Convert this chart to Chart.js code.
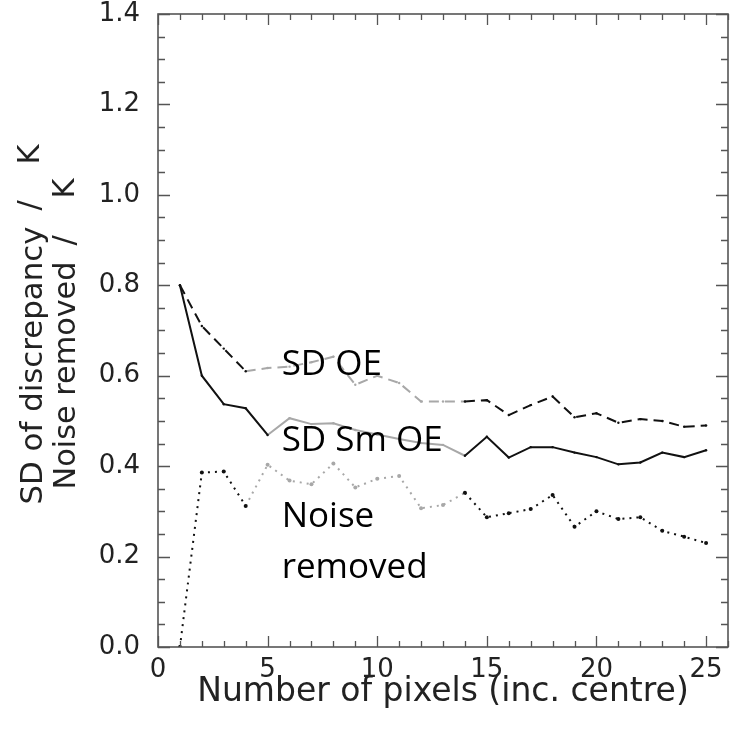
<!DOCTYPE html>
<html>
<head>
<meta charset="utf-8">
<script src="https://cdn.jsdelivr.net/npm/chart.js@4/dist/chart.umd.min.js"></script>
<style>
  html, body { margin: 0; padding: 0; background: #fff; }
  #wrap { width: 732px; height: 731px; position: relative; }
</style>
</head>
<body>
<div id="wrap"><canvas id="c"></canvas></div>
<script>
// ---- data ----
const pixels = [1,2,3,4,5,6,7,8,9,10,11,12,13,14,15,16,17,18,19,20,21,22,23,24,25];
const sdOE = [0.80,0.71,0.66,0.61,0.617,0.62,0.63,0.642,0.58,0.60,0.584,0.543,0.543,0.543,0.546,0.513,0.535,0.554,0.508,0.517,0.496,0.504,0.50,0.487,0.49];
const sdSmOE = [0.80,0.60,0.537,0.528,0.469,0.506,0.493,0.495,0.48,0.47,0.46,0.451,0.447,0.423,0.465,0.419,0.442,0.442,0.43,0.42,0.404,0.408,0.43,0.42,0.435];
const noiseRemoved = [0.0,0.386,0.388,0.312,0.403,0.368,0.36,0.406,0.353,0.372,0.378,0.307,0.314,0.341,0.287,0.296,0.305,0.336,0.266,0.30,0.283,0.287,0.257,0.244,0.23];
const xTickValues = [0,5,10,15,20,25];
const yTickValues = [0.0,0.2,0.4,0.6,0.8,1.0,1.2,1.4];
const xTitle = 'Number of pixels (inc. centre)';
const yTitleLines = [['SD of discrepancy', '/', 'K'], ['Noise removed', '/', 'K']];
const annotations = [
  { text: 'SD OE', x: 5.64, y: 0.602 },
  { text: 'SD Sm OE', x: 5.64, y: 0.434 },
  { text: 'Noise', x: 5.64, y: 0.265 },
  { text: 'removed', x: 5.64, y: 0.153 }
];

const BLACK = '#111111';
const GREY = '#a8a8a8';
const AXIS = '#555555';
const TEXT = '#222222';

function greyBetween(a, b) {
  return ctx => (ctx.p0.parsed.x >= a && ctx.p1.parsed.x <= b) ? GREY : undefined;
}
function pointGrey(a, b) {
  return ctx => {
    const x = pixels[ctx.dataIndex];
    return (x > a && x < b) ? GREY : BLACK;
  };
}
function toXY(arr) { return pixels.map((p, i) => ({ x: p, y: arr[i] })); }

// IDL-style frame with inward ticks on all four sides
const frameTicks = {
  id: 'frameTicks',
  afterDatasetsDraw(chart) {
    const { ctx, chartArea: a, scales: { x, y } } = chart;
    ctx.save();
    ctx.strokeStyle = AXIS;
    ctx.lineWidth = 1.6;
    ctx.strokeRect(a.left, a.top, a.right - a.left, a.bottom - a.top);
    ctx.lineWidth = 1.3;
    ctx.beginPath();
    for (let v = 0; v <= 26; v += 1) {
      const px = Math.round(x.getPixelForValue(v)) + 0.5;
      const len = (v % 5 === 0) ? 11 : 6;
      ctx.moveTo(px, a.bottom); ctx.lineTo(px, a.bottom - len);
      ctx.moveTo(px, a.top); ctx.lineTo(px, a.top + len);
    }
    for (let k = 0; k <= 28; k += 1) {
      const py = Math.round(y.getPixelForValue(k * 0.05)) + 0.5;
      const len = (k % 4 === 0) ? 12 : 7;
      ctx.moveTo(a.left, py); ctx.lineTo(a.left + len, py);
      ctx.moveTo(a.right, py); ctx.lineTo(a.right - len, py);
    }
    ctx.stroke();
    ctx.restore();
  }
};

// in-plot text labels, positioned in data units
const textLabels = {
  id: 'textLabels',
  afterDatasetsDraw(chart) {
    const { ctx, scales: { x, y } } = chart;
    ctx.save();
    ctx.fillStyle = '#000';
    ctx.font = '35px "Open Sans"';
    ctx.textAlign = 'left';
    ctx.textBaseline = 'alphabetic';
    annotations.forEach(t => {
      ctx.fillText(t.text, x.getPixelForValue(t.x), y.getPixelForValue(t.y));
    });
    ctx.restore();
  }
};

// two-line rotated y-axis title with the offset "/ K" of the original
const yTitle = {
  id: 'yTitle',
  afterDraw(chart) {
    const { ctx, chartArea: a } = chart;
    const mid = (a.top + a.bottom) / 2;
    const specs = [
      { base: 42, start: mid + 174, len: 278, slash: 294, k: 340, lift: 3 },
      { base: 75, start: mid + 159, len: 228, slash: 244, k: 291, lift: 1 }
    ];
    ctx.save();
    ctx.fillStyle = TEXT;
    ctx.font = '30.5px "DejaVu Sans"';
    ctx.textBaseline = 'alphabetic';
    ctx.textAlign = 'left';
    yTitleLines.forEach((parts, i) => {
      const s = specs[i];
      ctx.save();
      ctx.translate(s.base, s.start);
      ctx.rotate(-Math.PI / 2);
      const w = ctx.measureText(parts[0]).width;
      ctx.save();
      ctx.scale(s.len / w, 1);
      ctx.fillText(parts[0], 0, 0);
      ctx.restore();
      ctx.fillText(parts[1], s.slash, -s.lift);
      ctx.fillText(parts[2], s.k, -s.lift);
      ctx.restore();
    });
    ctx.restore();
  }
};

new Chart(document.getElementById('c'), {
  type: 'line',
  data: {
    datasets: [
      {
        label: 'SD OE',
        data: toXY(sdOE),
        borderColor: BLACK,
        borderWidth: 2,
        borderDash: [10, 6],
        pointRadius: 1.2,
        pointBackgroundColor: pointGrey(4, 14),
        pointBorderWidth: 0,
        segment: { borderColor: greyBetween(4, 14) },
        tension: 0
      },
      {
        label: 'SD Sm OE',
        data: toXY(sdSmOE),
        borderColor: BLACK,
        borderWidth: 2,
        pointRadius: 1.2,
        pointBackgroundColor: pointGrey(5, 14),
        pointBorderWidth: 0,
        segment: { borderColor: greyBetween(5, 14) },
        tension: 0
      },
      {
        label: 'Noise removed',
        data: toXY(noiseRemoved),
        borderColor: BLACK,
        borderWidth: 2,
        borderDash: [2, 5],
        pointRadius: 2,
        pointBackgroundColor: pointGrey(4, 14),
        pointBorderWidth: 0,
        segment: { borderColor: greyBetween(4, 14) },
        tension: 0
      }
    ]
  },
  options: {
    responsive: true,
    maintainAspectRatio: false,
    animation: false,
    layout: { padding: { left: 0, right: 2, top: 14, bottom: 0 } },
    plugins: { legend: { display: false }, tooltip: { enabled: false } },
    scales: {
      x: {
        type: 'linear',
        min: 0, max: 26,
        afterBuildTicks: s => { s.ticks = xTickValues.map(v => ({ value: v })); },
        afterFit: s => { s.height = 84; s.paddingLeft = 0; s.paddingRight = 0; },
        grid: { display: false },
        border: { display: false },
        ticks: {
          color: TEXT,
          font: { family: 'DejaVu Sans', size: 26 },
          padding: 0,
          maxRotation: 0,
          callback: v => String(v)
        },
        title: {
          display: true,
          text: xTitle,
          color: TEXT,
          font: { family: 'DejaVu Sans', size: 33 },
          padding: { top: 0, bottom: 19 }
        }
      },
      y: {
        type: 'linear',
        min: 0, max: 1.4,
        afterBuildTicks: s => { s.ticks = yTickValues.map(v => ({ value: v })); },
        afterFit: s => { s.width = 158; s.paddingTop = 0; s.paddingBottom = 0; },
        grid: { display: false },
        border: { display: false },
        ticks: {
          color: TEXT,
          font: { family: 'DejaVu Sans', size: 26 },
          padding: 10,
          callback: v => Number(v).toFixed(1)
        },
        title: { display: false }
      }
    }
  },
  plugins: [frameTicks, textLabels, yTitle]
});
</script>
</body>
</html>
